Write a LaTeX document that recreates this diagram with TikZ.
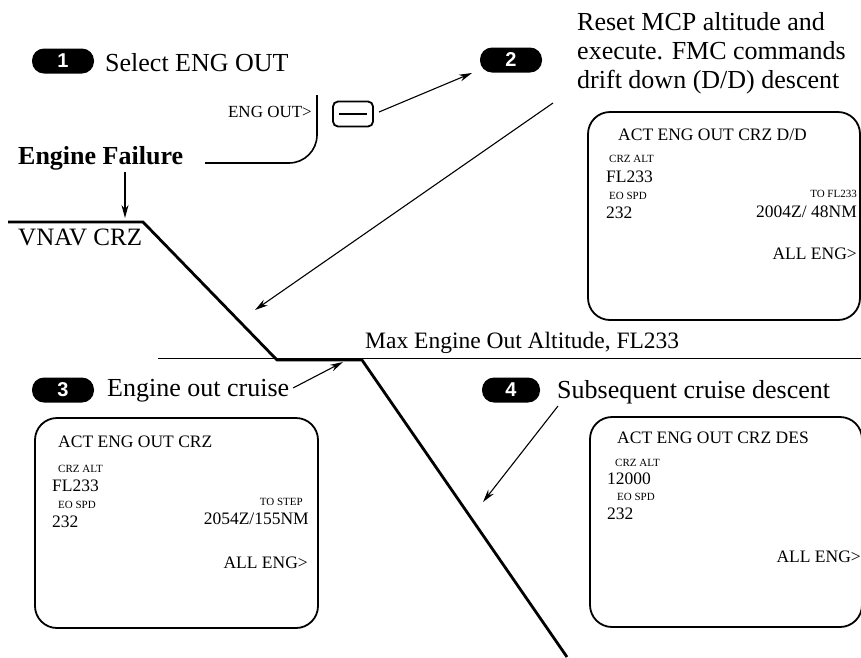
\documentclass[tikz,border=0pt]{standalone}
\usepackage{fontspec}
\setmainfont{Liberation Serif}
\newfontfamily\badgefont{Liberation Sans}
\usetikzlibrary{arrows.meta}
\begin{document}
\begin{tikzpicture}[x=1pt,y=-1pt,
 badge/.style={fill=black, rounded corners=12pt, minimum width=62pt, minimum height=25pt, inner sep=0pt, text=white, font=\badgefont\bfseries\fontsize{20}{20}\selectfont},
 big/.style={font=\fontsize{26}{29}\selectfont, inner sep=0pt},
 scr/.style={draw, line width=1.8pt, rounded corners=22pt, inner sep=0pt},
 st/.style={font=\fontsize{17.5}{18}\selectfont, inner sep=0pt},
 sm/.style={font=\fontsize{11}{11}\selectfont, inner sep=0pt},
 arr/.style={line width=1.1pt, -{Stealth[length=13pt,width=7pt]}},
 prof/.style={line width=2.8pt, line join=miter},
]
\useasboundingbox (0,0) rectangle (861,657);

% flight profile
\draw[prof] (8,222) -- (143,222) -- (277,360) -- (362,360) -- (567,657);
\draw[line width=0.9pt] (158,358) -- (861,358);

% step 1
\node[badge] (b1) at (63,61) {1};
\node[big, anchor=west] (t1) at (105,63) {Select ENG OUT};
\node[font=\fontsize{17}{17}\selectfont, anchor=east, inner sep=0pt] (eo) at (312,112) {ENG OUT>};
\draw[line width=1.6pt, rounded corners=28pt] (317,95) |- (205,163);
\node[draw, line width=1.8pt, rounded corners=5pt, minimum width=40pt, minimum height=25pt] (key) at (353,114) {};
\draw[line width=1.8pt] ([xshift=7pt]key.west) -- ([xshift=-7pt]key.east);

\node[font=\fontsize{26}{29}\selectfont\bfseries, anchor=west, inner sep=0pt] (ef) at (18,158) {Engine Failure};
\coordinate (efs) at (125,172);
\coordinate (eft) at (125,218);
\draw[arr] (efs) -- (eft);
\node[font=\fontsize{25}{25}\selectfont, anchor=west, inner sep=0pt] (vnav) at (18,237) {VNAV CRZ};

% step 2
\node[badge] (b2) at (511,60) {2};
\node[big, anchor=west, align=left] (t2) at (577,53) {Reset MCP altitude and\\execute. FMC commands\\drift down (D/D) descent};
\coordinate (a2s) at (379,112);
\coordinate (a2t) at (472,73);
\draw[arr] (a2s) -- (a2t);
\coordinate (dds) at (553,103);
\coordinate (ddt) at (255,310);
\draw[arr] (dds) -- (ddt);

\node[scr, minimum width=272pt, minimum height=208pt] (s2) at (724,216) {};
\node[st, anchor=west] (s2a) at (618,135) {ACT ENG OUT CRZ D/D};
\node[sm, anchor=west] (s2b) at (609,159) {CRZ ALT};
\node[st, anchor=west] (s2c) at (606,177) {FL233};
\node[sm, anchor=west] (s2d) at (609,196) {EO SPD};
\node[st, anchor=west] (s2e) at (606,213) {232};
\node[sm, anchor=east] (s2f) at (857,194) {TO FL233};
\node[st, anchor=east] (s2g) at (857,212) {2004Z/ 48NM};
\node[st, anchor=east] (s2h) at (857,254) {ALL ENG>};

% max altitude
\node[font=\fontsize{23.5}{24}\selectfont, anchor=west, inner sep=0pt] (max) at (365,343) {Max Engine Out Altitude, FL233};

% step 3
\node[badge] (b3) at (63,390) {3};
\node[big, anchor=west] (t3) at (107,391) {Engine out cruise};
\coordinate (a3s) at (293,388);
\coordinate (a3t) at (343,362);
\draw[arr] (a3s) -- (a3t);

\node[scr, minimum width=283pt, minimum height=210pt] (s3) at (176.5,523) {};
\node[st, anchor=west] (s3a) at (58,442) {ACT ENG OUT CRZ};
\node[sm, anchor=west] (s3b) at (58,469) {CRZ ALT};
\node[st, anchor=west] (s3c) at (52,486) {FL233};
\node[sm, anchor=west] (s3d) at (58,505) {EO SPD};
\node[st, anchor=west] (s3e) at (52,522) {232};
\node[sm, anchor=east] (s3f) at (303,502) {TO STEP};
\node[st, anchor=east] (s3g) at (309,519) {2054Z/155NM};
\node[st, anchor=east] (s3h) at (308,563) {ALL ENG>};

% step 4
\node[badge, minimum width=58pt] (b4) at (511,390) {4};
\node[big, anchor=west] (t4) at (557,392) {Subsequent cruise descent};
\coordinate (a4s) at (558,406);
\coordinate (a4t) at (483,502);
\draw[arr] (a4s) -- (a4t);

\node[scr, minimum width=272pt, minimum height=210pt] (s4) at (726,522) {};
\node[st, anchor=west] (s4a) at (617,438) {ACT ENG OUT CRZ DES};
\node[sm, anchor=west] (s4b) at (615,463) {CRZ ALT};
\node[st, anchor=west] (s4c) at (607,479) {12000};
\node[sm, anchor=west] (s4d) at (617,497) {EO SPD};
\node[st, anchor=west] (s4e) at (607,514) {232};
\node[st, anchor=east] (s4h) at (861,557) {ALL ENG>};
\end{tikzpicture}
\end{document}
